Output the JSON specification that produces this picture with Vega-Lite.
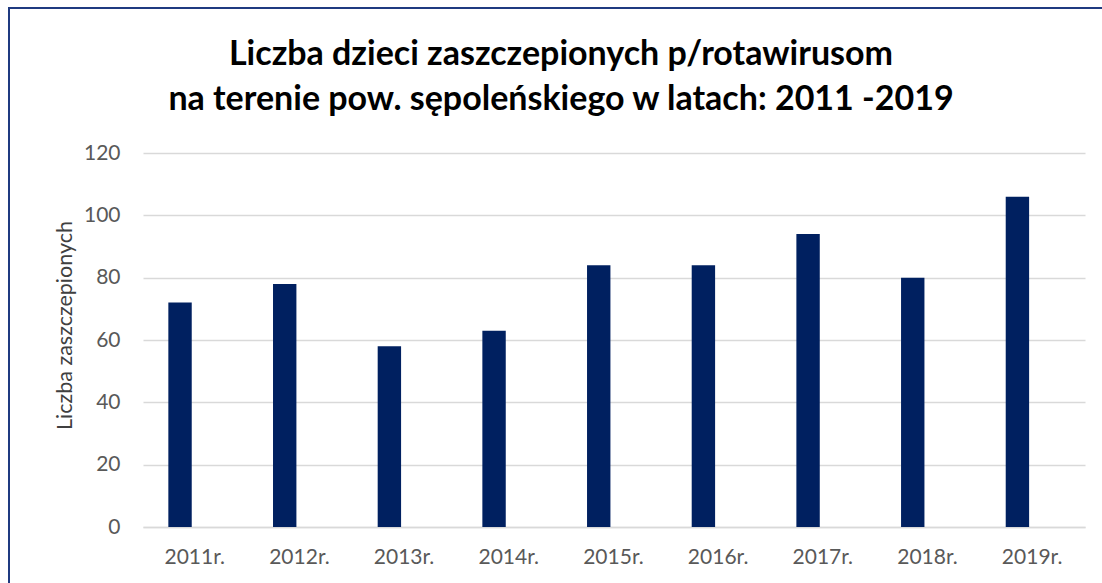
{
  "$schema": "https://vega.github.io/schema/vega-lite/v6.json",
  "autosize": {"type": "none"},
  "padding": {"left": 9, "top": 8, "right": 0, "bottom": 0},
  "width": 1104,
  "height": 600,
  "background": "white",
  "config": {
    "view": {"stroke": "#1f3a80", "strokeWidth": 2},
    "font": "Lato"
  },
  "title": {
    "text": ["Liczba dzieci zaszczepionych p/rotawirusom", "na terenie pow. sępoleńskiego w latach: 2011 -2019"],
    "font": "Lato",
    "fontSize": 34,
    "fontWeight": "bold",
    "color": "#000000",
    "lineHeight": 45,
    "anchor": "middle",
    "frame": "group",
    "offset": -109
  },
  "data": {
    "values": [
      {"rok": "2011r.", "liczba": 72},
      {"rok": "2012r.", "liczba": 78},
      {"rok": "2013r.", "liczba": 58},
      {"rok": "2014r.", "liczba": 63},
      {"rok": "2015r.", "liczba": 84},
      {"rok": "2016r.", "liczba": 84},
      {"rok": "2017r.", "liczba": 94},
      {"rok": "2018r.", "liczba": 80},
      {"rok": "2019r.", "liczba": 106}
    ]
  },
  "mark": {"type": "bar", "color": "#002060"},
  "encoding": {
    "x": {
      "field": "rok",
      "type": "nominal",
      "sort": null,
      "scale": {"range": [134, 1076], "paddingInner": 0.7765, "paddingOuter": 0.388, "align": 0.312},
      "axis": {
        "title": null,
        "orient": "bottom",
        "offset": -81,
        "labelAngle": 0,
        "labelFont": "Lato",
        "labelFontSize": 21,
        "labelColor": "#595959",
        "labelPadding": 19,
        "labelOffset": 14.7,
        "ticks": false,
        "domainColor": "#d9d9d9",
        "domainWidth": 1.5,
        "grid": false
      }
    },
    "y": {
      "field": "liczba",
      "type": "quantitative",
      "scale": {"domain": [0, 120], "range": [519, 145], "nice": false},
      "axis": {
        "title": "Liczba zaszczepionych",
        "orient": "left",
        "offset": -134,
        "values": [0, 20, 40, 60, 80, 100, 120],
        "labelFont": "Lato",
        "labelFontSize": 21,
        "labelColor": "#595959",
        "labelPadding": 23,
        "ticks": false,
        "domain": false,
        "grid": true,
        "gridColor": "#d9d9d9",
        "gridWidth": 1.5,
        "titleFont": "Lato",
        "titleFontSize": 21.5,
        "titleFontWeight": "normal",
        "titleColor": "#404040",
        "titleAngle": -90,
        "titleBaseline": "alphabetic",
        "titleAlign": "center",
        "titleX": -72,
        "titleY": 317
      }
    }
  }
}
